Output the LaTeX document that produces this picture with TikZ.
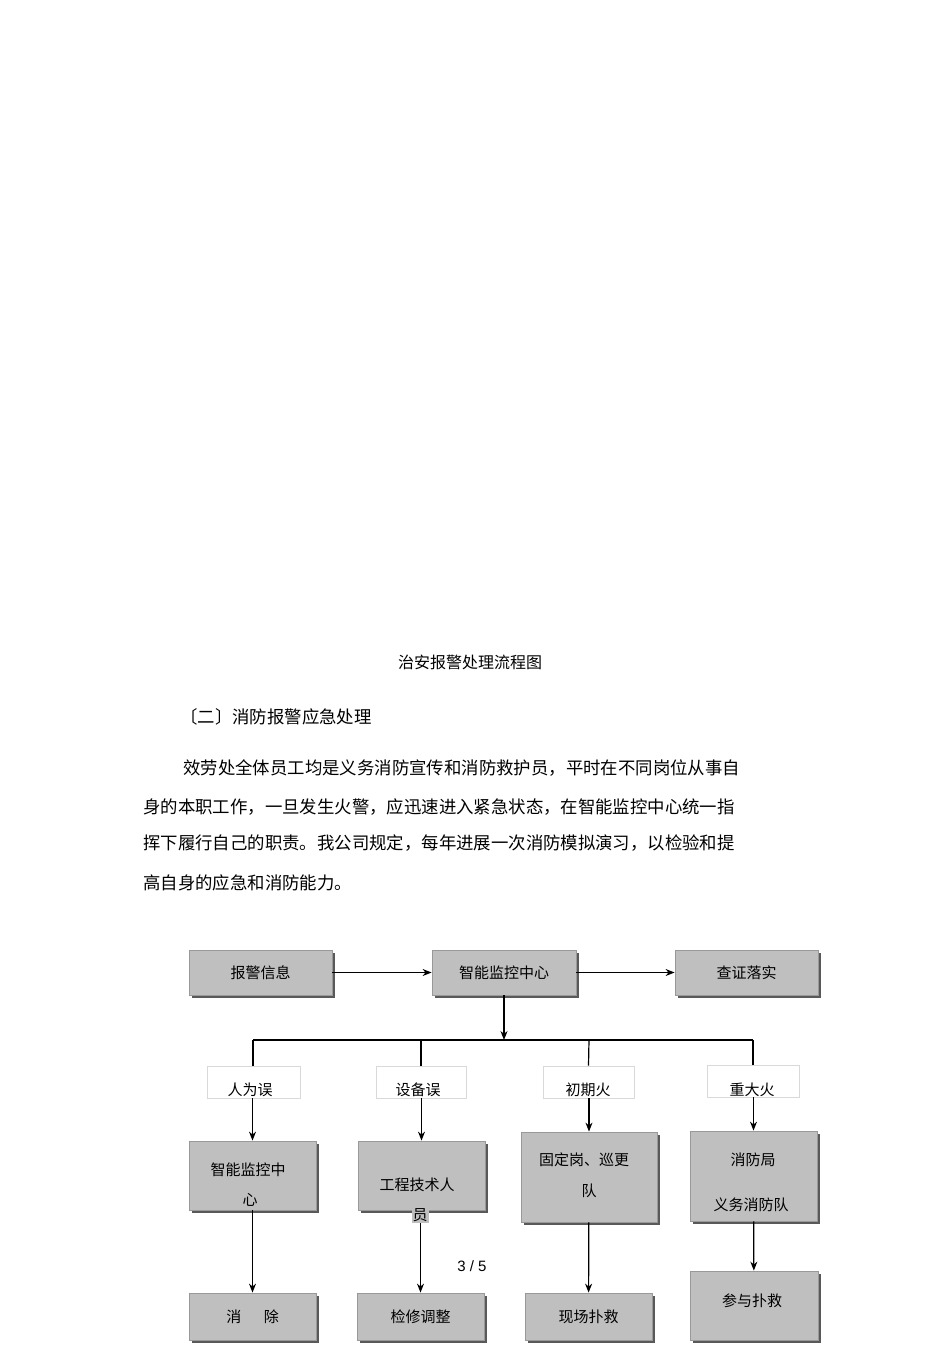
\documentclass[tikz,border=0pt]{standalone}
\usepackage{fontspec}
\setmainfont{Liberation Sans}
\newfontfamily\cjk{Noto Sans CJK SC}
\usetikzlibrary{arrows.meta,shadows}
\begin{document}
\begin{tikzpicture}[x=1pt,y=-1pt,
  box/.style={draw=gray!80, fill=black!25, line width=0.8pt, inner sep=0pt, font=\cjk\fontsize{15}{15}\selectfont,
    drop shadow={shadow xshift=3pt,shadow yshift=-3pt,fill=black!65,opacity=1}},
  lab/.style={draw=black!15, fill=white, line width=0.8pt, inner sep=0pt, font=\cjk\fontsize{15}{15}\selectfont},
  txt/.style={font=\cjk\fontsize{15}{15}\selectfont, inner sep=0pt},
  para/.style={font=\cjk\fontsize{17.4}{17.4}\selectfont, inner sep=0pt, anchor=west},
  arr/.style={line width=1.2pt, -{Stealth[length=9pt,width=7pt]}},
  ln/.style={line width=1.2pt}]
\useasboundingbox (0,0) rectangle (950,1345);
% text
\node[txt, font=\cjk\fontsize{16}{16}\selectfont] (title) at (470,662) {治安报警处理流程图};
\node[para] (sec) at (180,717) {〔二〕消防报警应急处理};
\node[para] (p1) at (183,768) {效劳处全体员工均是义务消防宣传和消防救护员，平时在不同岗位从事自};
\node[para] (p2) at (143,807) {身的本职工作，一旦发生火警，应迅速进入紧急状态，在智能监控中心统一指};
\node[para] (p3) at (143,843) {挥下履行自己的职责。我公司规定，每年进展一次消防模拟演习，以检验和提};
\node[para] (p4) at (143,883) {高自身的应急和消防能力。};
% top row
\node[box, minimum width=143pt, minimum height=45pt] (a) at (260.5,972.5) {报警信息};
\node[box, minimum width=144pt, minimum height=45pt] (b) at (504,972.5) {智能监控中心};
\node[box, minimum width=143pt, minimum height=45pt] (c) at (746.5,972.5) {查证落实};
\draw[arr] (a) -- (b);
\draw[arr] (b) -- (c);
\coordinate (j) at (504,1040);
\draw[arr] (b) -- (j);
\coordinate (j1) at (253,1040);
\coordinate (j4) at (753,1040);
\draw[ln] (j1) -- (j4);
% labels
\node[lab, minimum width=93pt, minimum height=32pt] (l1) at (253.5,1082) {};
\node[lab, minimum width=90pt, minimum height=32pt] (l2) at (421,1082) {};
\node[lab, minimum width=91pt, minimum height=32pt] (l3) at (588.5,1082) {};
\node[lab, minimum width=92pt, minimum height=32pt] (l4) at (753,1081) {};
\node[txt] (t1) at (250,1090) {人为误};
\node[txt] (t2) at (418,1090) {设备误};
\node[txt] (t3) at (588,1090) {初期火};
\node[txt] (t4) at (752,1090) {重大火};
\draw[ln] (j1) -- (l1.north -| j1);
\draw[ln] (421,1040) -- (l2.north);
\draw[ln] (589,1040) -- (l3.north);
\draw[ln] (j4) -- (l4.north);
% middle boxes
\node[box, minimum width=127pt, minimum height=69pt] (m1) at (252.5,1175.5) {};
\node[txt] at (248,1170) {智能监控中};
\node[txt] at (250,1200) {心};
\node[box, minimum width=127pt, minimum height=69pt] (m2) at (421.5,1175.5) {};
\node[txt] at (417,1185) {工程技术人};
\node[box, minimum width=136pt, minimum height=90pt] (m3) at (589,1177) {};
\node[txt] at (584,1160) {固定岗、巡更};
\node[txt] at (589,1191) {队};
\node[box, minimum width=127pt, minimum height=90pt] (m4) at (753.5,1176) {};
\node[txt] at (753,1160) {消防局};
\node[txt] at (751,1205) {义务消防队};
\draw[arr] (l1.south -| m1) -- (m1);
\draw[arr] (l2.south -| m2) -- (m2);
\draw[arr] (l3.south -| m3) -- (m3);
\draw[arr] (l4.south -| m4) -- (m4);
% bottom boxes
\node[box, minimum width=127pt, minimum height=47pt] (b1) at (252.5,1316.5) {消\hspace{1.5em}除};
\node[box, minimum width=127pt, minimum height=47pt] (b2) at (420.5,1316.5) {检修调整};
\node[box, minimum width=127pt, minimum height=47pt] (b3) at (588.5,1316.5) {现场扑救};
\node[box, minimum width=128pt, minimum height=69pt] (b4) at (754,1305.5) {};
\node[txt] at (752,1301) {参与扑救};
\draw[arr] (m1) -- (b1);
\draw[arr] (m2.south -| b2) -- (b2);
\node[txt, fill=black!25, inner sep=1pt] at (420,1215) {员};
\draw[arr] (m3) -- (b3);
\draw[arr] (m4) -- (b4);
\node[txt, font=\fontsize{15}{15}\selectfont] (pg) at (472,1266) {3 / 5};
\end{tikzpicture}
\end{document}
